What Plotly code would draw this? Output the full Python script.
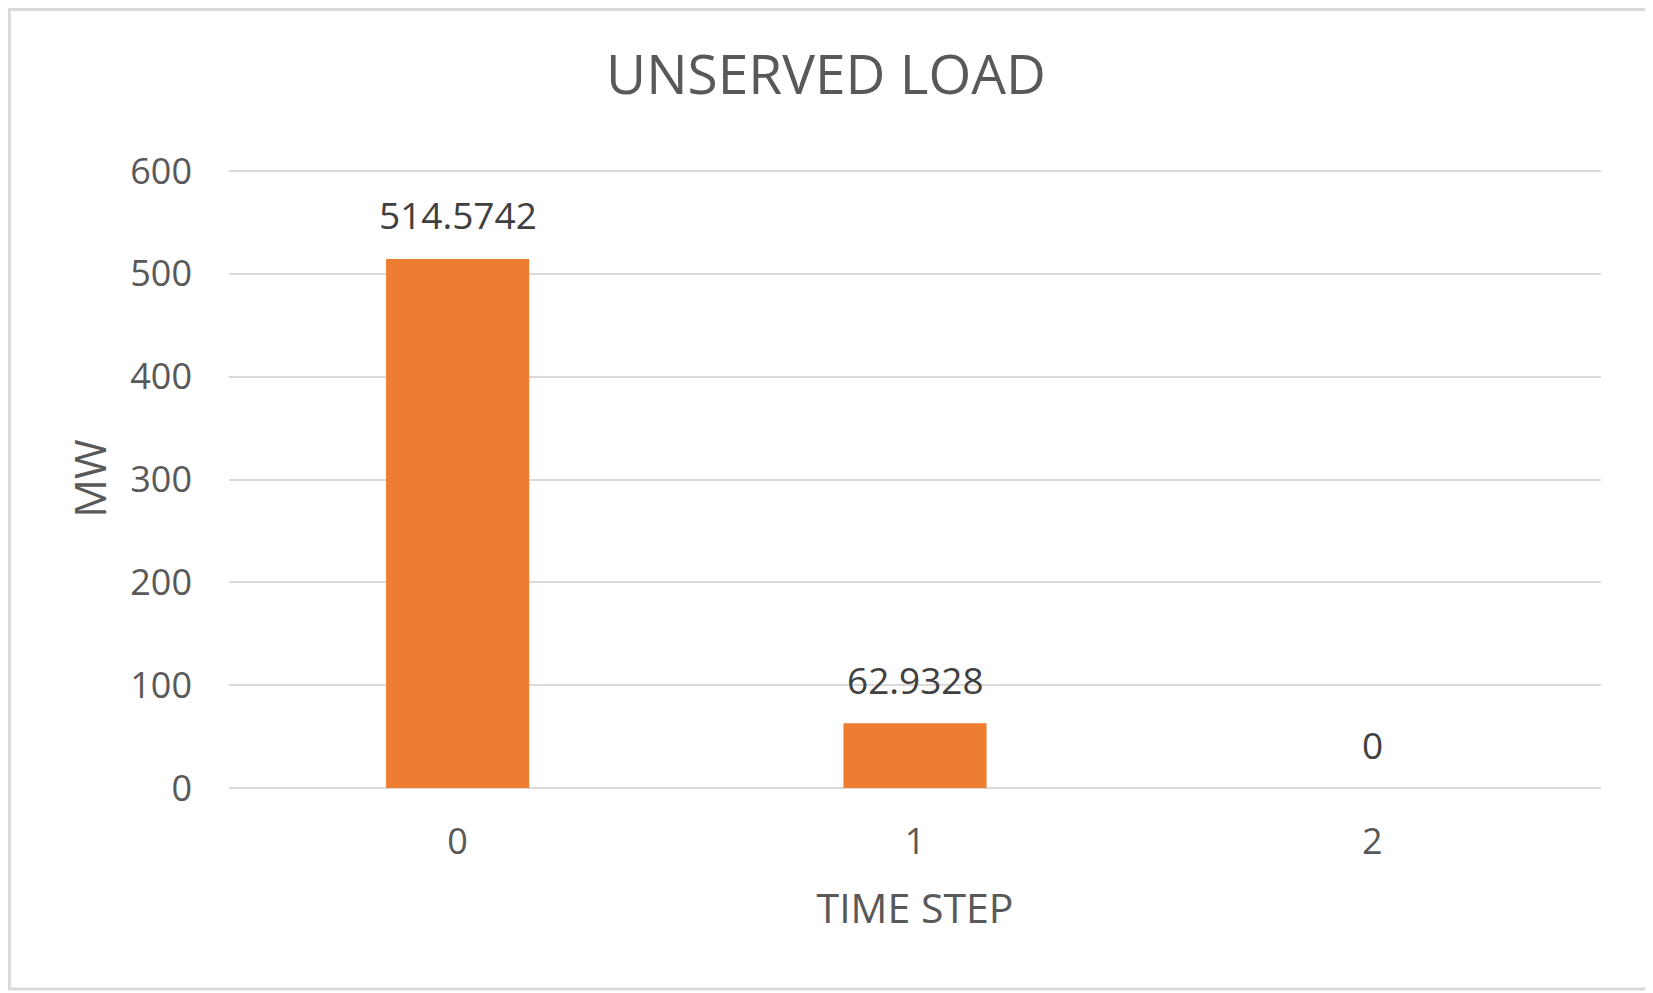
import plotly.graph_objects as go

# data
time_steps = ["0", "1", "2"]
unserved_mw = [514.5742, 62.9328, 0]
label_text = ["514.5742", "62.9328", "0"]

# page has an 8px body margin, so keep the figure inside the window
W, H = 1645, 985
L, R, T, B = 221, 52, 161, 205
pw, ph = W - L - R, H - T - B

fig = go.Figure(
    go.Bar(
        x=time_steps,
        y=unserved_mw,
        marker_color="#ED7D31",
        marker_line_width=0,
        hoverinfo="x+y",
    )
)

# data labels above each bar
for x, y, t in zip(time_steps, unserved_mw, label_text):
    fig.add_annotation(
        x=x, y=y, text=t, showarrow=False,
        yanchor="middle", yshift=44,
        font=dict(family="Open Sans", size=37, color="#404040"),
    )

# light frame around the chart area
fig.add_shape(
    type="rect", xref="paper", yref="paper",
    x0=-(L - 1.5) / pw, x1=1 + (R - 2) / pw,
    y0=-(B - 4) / ph, y1=1 + (T - 1.5) / ph,
    line=dict(color="#d9d9d9", width=3),
)

fig.update_layout(
    width=W, height=H,
    margin=dict(l=L, r=R, t=T, b=B),
    paper_bgcolor="white",
    plot_bgcolor="white",
    showlegend=False,
    bargap=0.687,
    font=dict(family="Open Sans", color="#595959"),
    title=dict(
        text="UNSERVED LOAD",
        x=818 / W, xanchor="center",
        y=1 - 67 / H, yanchor="middle", yref="container",
        font=dict(size=55, color="#595959"),
    ),
    xaxis=dict(
        type="category",
        showgrid=False,
        showline=False,
        zeroline=False,
        ticks="",
        tickfont=dict(size=36, color="#595959"),
        ticklabelstandoff=29,
        title=dict(text="TIME STEP", font=dict(size=41, color="#595959"), standoff=30),
    ),
    yaxis=dict(
        # a little headroom so plotly keeps the 600 gridline
        range=[0, 602],
        tick0=0,
        dtick=100,
        showgrid=True,
        gridcolor="#d9d9d9",
        gridwidth=2,
        zeroline=True,
        zerolinecolor="#d9d9d9",
        zerolinewidth=2,
        showline=False,
        ticks="",
        tickfont=dict(size=36, color="#595959"),
        ticklabelstandoff=36,
        title=dict(text="MW", font=dict(size=43, color="#595959"), standoff=10),
    ),
)

fig.write_html("out.html")
